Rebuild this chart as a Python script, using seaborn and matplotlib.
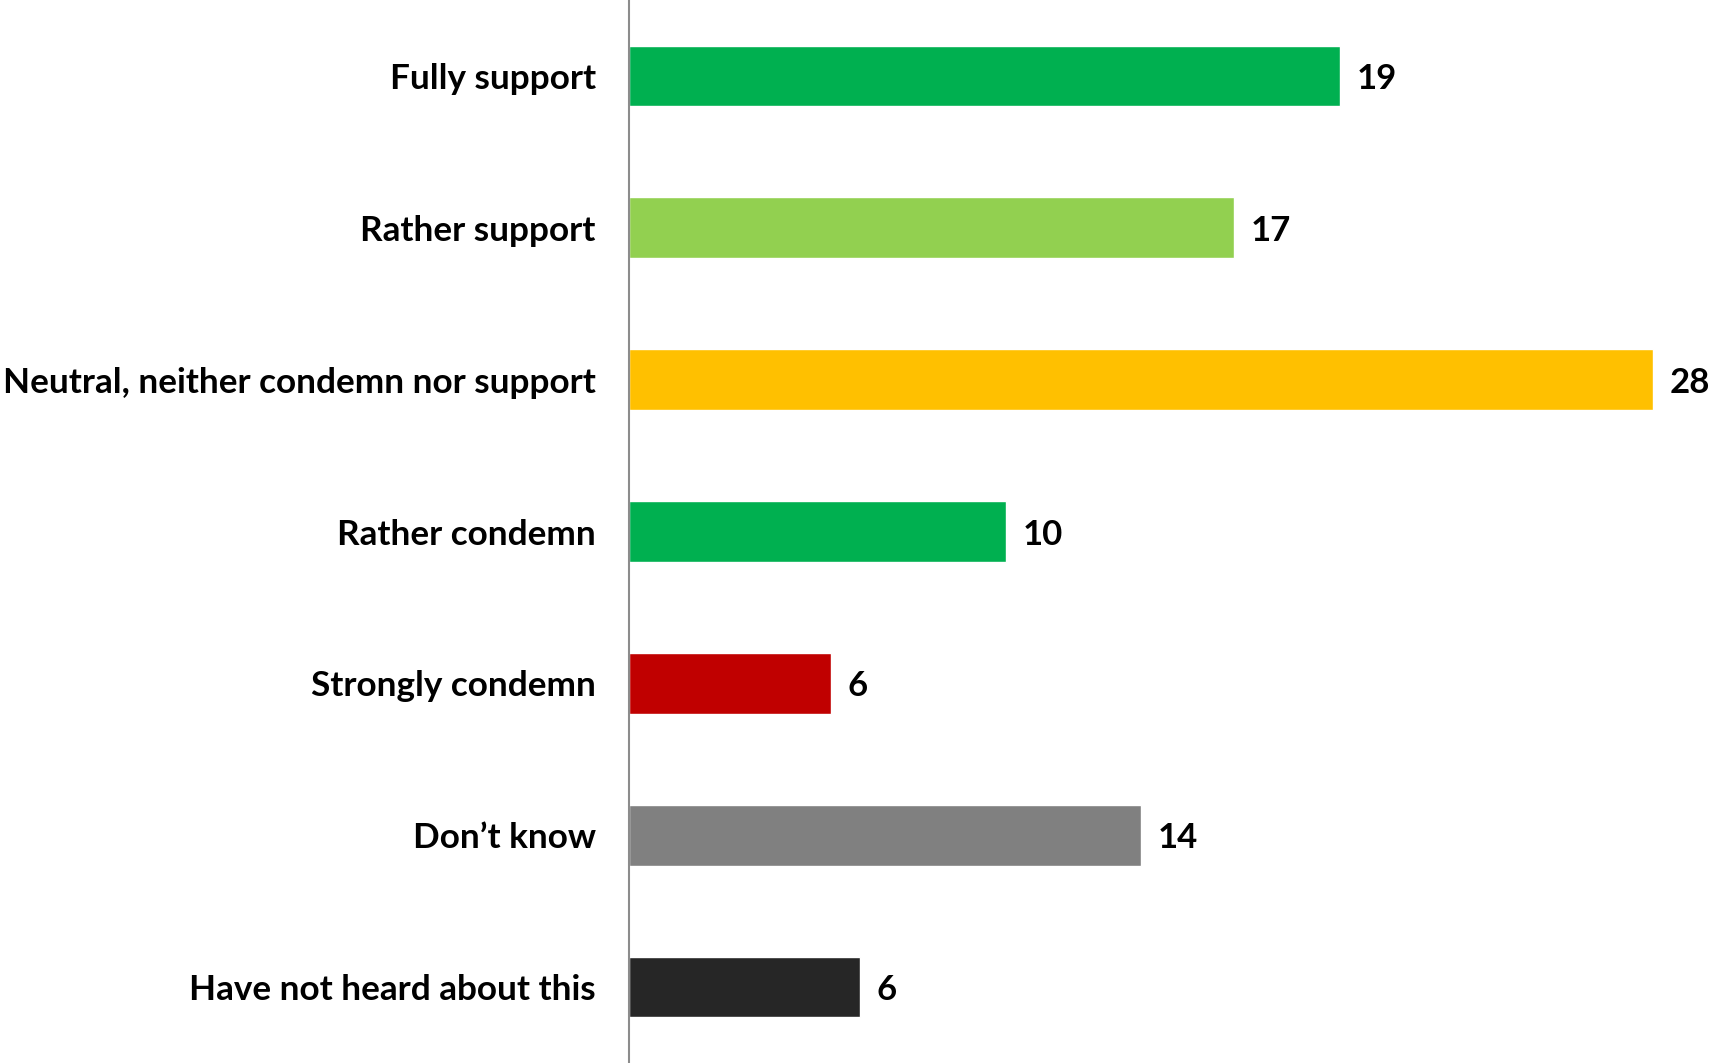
import matplotlib
matplotlib.use("Agg")
import matplotlib.pyplot as plt
import seaborn as sns
import pandas as pd

categories = [
    "Fully support",
    "Rather support",
    "Neutral, neither condemn nor support",
    "Rather condemn",
    "Strongly condemn",
    "Don\u2019t know",
    "Have not heard about this",
]
values = [19.44, 16.55, 28.0, 10.32, 5.52, 14.01, 6.32]
colors = ["#00B050", "#92D050", "#FFC000", "#00B050", "#C00000", "#808080", "#262626"]

df = pd.DataFrame({"Answer": categories, "Share": values})

sns.set_style("white")
plt.rcParams["font.family"] = ["Lato", "DejaVu Sans"]

fig = plt.figure(figsize=(17.1, 10.63), dpi=100)
ax = fig.add_axes([629 / 1710, 0, 1 - 629 / 1710, 1])

sns.barplot(data=df, x="Share", y="Answer", hue="Answer", palette=colors,
            legend=False, width=0.4, saturation=1, ax=ax)

# value labels to the right of each bar
for i, v in enumerate(values):
    ax.text(v + 0.45, i, f"{v:.0f}", va="center_baseline", ha="left",
            fontsize=25, fontweight="bold", color="black", clip_on=False)

ax.set_xlim(0, 29.56)
ax.set_ylim(6.5, -0.5)
ax.set_xlabel("")
ax.set_ylabel("")
ax.set_xticks([])
ax.tick_params(axis="y", length=0, pad=24, labelsize=25.3, labelcolor="black")
for lbl in ax.get_yticklabels():
    lbl.set_fontweight("bold")
    lbl.set_verticalalignment("center_baseline")
for s in ["top", "right", "bottom"]:
    ax.spines[s].set_visible(False)
ax.spines["left"].set_color("#8C8C8C")
ax.spines["left"].set_linewidth(1.5)

fig.savefig("out.png", dpi=100)
